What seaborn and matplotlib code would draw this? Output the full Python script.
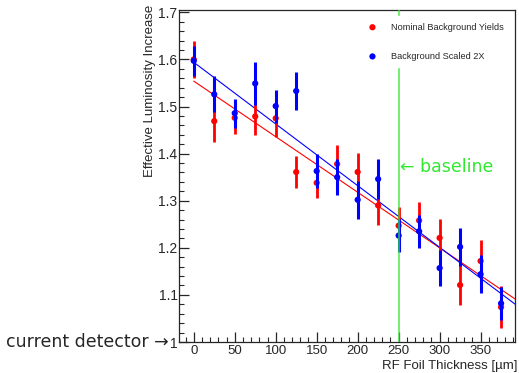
import numpy as np
import matplotlib
matplotlib.use('Agg')
import matplotlib.pyplot as plt
import seaborn as sns

# valores
thickness = [0, 25, 50, 75, 100, 125, 150, 175, 200, 225, 250, 275, 300, 325, 350, 375]
nominal = [1.600, 1.469, 1.476, 1.479, 1.475, 1.361, 1.338, 1.378, 1.361, 1.290,
           1.247, 1.258, 1.221, 1.121, 1.172, 1.074]
nominal_err = [0.040, 0.045, 0.035, 0.040, 0.040, 0.035, 0.032, 0.040, 0.040, 0.042,
               0.040, 0.040, 0.040, 0.042, 0.045, 0.045]
scaled = [1.597, 1.526, 1.486, 1.549, 1.501, 1.533, 1.363, 1.350, 1.302, 1.346,
          1.226, 1.235, 1.157, 1.202, 1.144, 1.082]
scaled_err = [0.032, 0.038, 0.031, 0.045, 0.035, 0.040, 0.037, 0.038, 0.040, 0.042,
              0.035, 0.035, 0.038, 0.040, 0.040, 0.035]
# retas de ajuste (intercepto, inclinação)
fit_nominal = (1.554, -0.00118)
fit_scaled = (1.594, -0.00131)

sns.set_style('ticks')
plt.rcParams['font.family'] = ['Liberation Sans', 'DejaVu Sans']

fig = plt.figure(figsize=(5.19, 3.73), dpi=100)
ax = fig.add_axes([179/519, 1-342/373, (515-179)/519, (342-10)/373])

red = '#ff0000'
blue = '#0000ff'
green = '#33e833'

xmin, xmax = -18, 392
xf = np.array([0, xmax])
ax.plot(xf, fit_nominal[0] + fit_nominal[1]*xf, color=red, lw=0.8, zorder=2)
ax.plot(xf, fit_scaled[0] + fit_scaled[1]*xf, color=blue, lw=0.8, zorder=2)

ax.errorbar(thickness, nominal, yerr=nominal_err, fmt='none', ecolor=red, elinewidth=2.0, zorder=3)
sns.scatterplot(x=thickness, y=nominal, color=red, s=20, edgecolor='none', ax=ax, zorder=4,
                label='Nominal Background Yields')
ax.errorbar(thickness, scaled, yerr=scaled_err, fmt='none', ecolor=blue, elinewidth=2.2, zorder=5)
sns.scatterplot(x=thickness, y=scaled, color=blue, s=20, edgecolor='none', ax=ax, zorder=6,
                label='Background Scaled 2X')

ax.axvline(250, color=green, lw=1.3, alpha=0.75, zorder=7)

ax.set_xlim(xmin, xmax)
ax.set_ylim(1.0, 1.705)
ax.set_xticks(range(0, 400, 50))
ax.set_xticks(range(-10, 392, 10), minor=True)
ax.set_yticks([1.0, 1.1, 1.2, 1.3, 1.4, 1.5, 1.6, 1.7])
ax.set_yticklabels(['1', '1.1', '1.2', '1.3', '1.4', '1.5', '1.6', '1.7'])
ax.set_yticks(np.arange(1.0, 1.70, 0.02), minor=True)
ax.tick_params(axis='both', which='major', direction='in', length=7, width=0.9)
ax.tick_params(axis='both', which='minor', direction='in', length=3.5, width=0.8)
ax.tick_params(axis='y', labelsize=10, pad=1)
ax.tick_params(axis='x', labelsize=9.5, pad=2)
for s in ax.spines.values():
    s.set_linewidth(0.9)

ax.set_ylabel('Effective Luminosity Increase', fontsize=9.5, loc='top')
ax.yaxis.set_label_coords(-0.068, 1.015)
ax.set_xlabel('RF Foil Thickness [µm]', fontsize=9.5, loc='right')
ax.xaxis.set_label_coords(1.006, -0.055)

leg = ax.legend(loc='upper right', bbox_to_anchor=(1.0, 0.995), fontsize=6.6,
                labelspacing=2.2, handletextpad=1.45, markerscale=1.0,
                frameon=True, fancybox=False, borderpad=0.7, handlelength=1.2)
leg.get_frame().set_facecolor('white')
leg.get_frame().set_edgecolor('white')
leg.get_frame().set_alpha(1)
leg.set_zorder(10)

ax.text(252, 1.371, '← baseline', color=green, fontsize=12.5, va='center', ha='left',
        family=['DejaVu Sans'], zorder=11)
fig.text(169/519, 1-342/373, 'current detector →', fontsize=12.5, ha='right', va='center',
         family=['DejaVu Sans'])

fig.savefig('out.png', dpi=100)
